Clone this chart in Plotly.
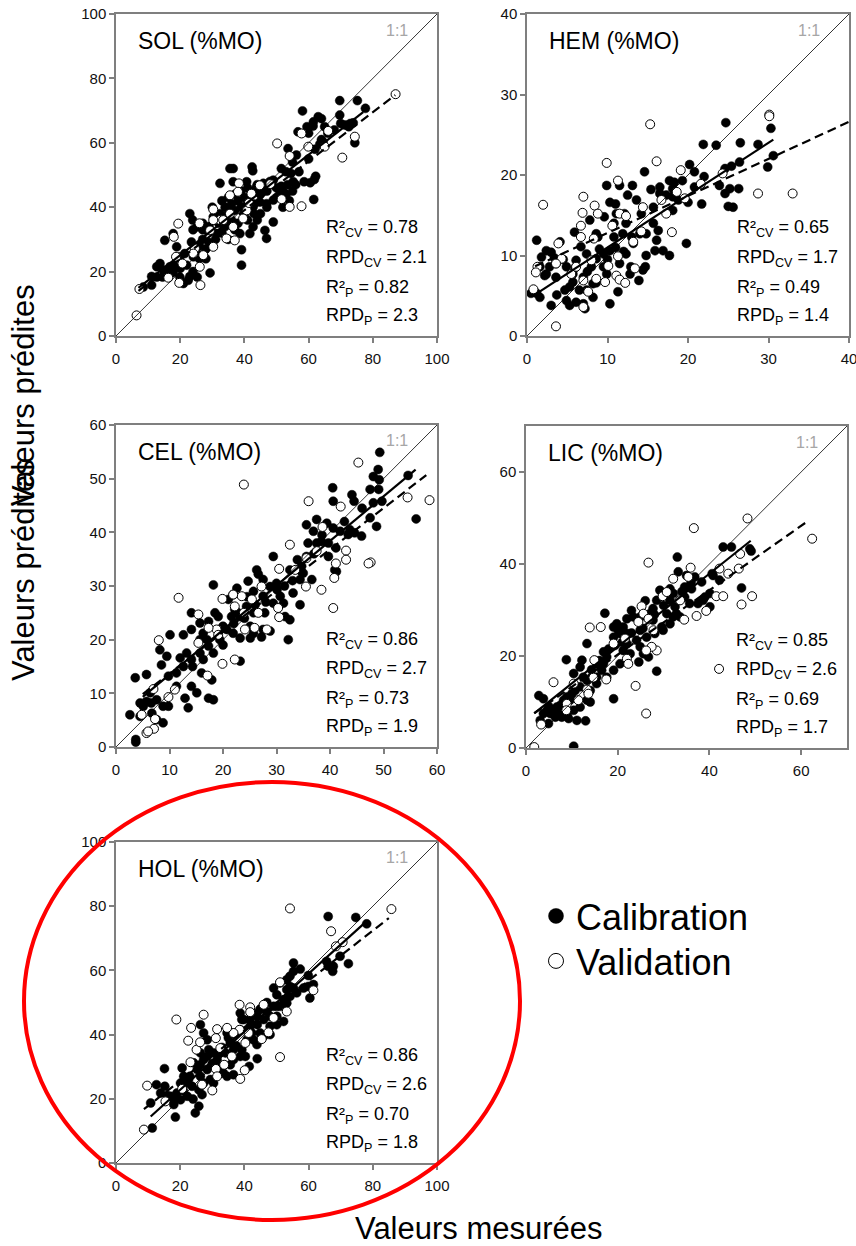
import plotly.graph_objects as go

W, H = 856, 1246
FONT = "Liberation Sans, Arial, sans-serif"

# ---------------- data ----------------
PANELS = ["SOL", "HEM", "CEL", "LIC", "HOL"]
AXIS_MAX = [100, 40, 60, 70, 100]
TICK_STEP = [20, 10, 10, 20, 20]
TICK_MAX = [100, 40, 60, 60, 100]
R2_CV = ["0.78", "0.65", "0.86", "0.85", "0.86"]
RPD_CV = ["2.1", "1.7", "2.7", "2.6", "2.6"]
R2_P = ["0.82", "0.49", "0.73", "0.69", "0.70"]
RPD_P = ["2.3", "1.4", "1.9", "1.7", "1.8"]

# regression lines (calibration = solid, validation = dashed)
CAL_FIT_X = [(7, 77), (0.9, 30.6), (5, 56), (1.8, 49), (10.8, 78)]
CAL_FIT = [(0.78, 9.5), (0.65, 4.5), (0.83, 5.2), (0.795, 6.1), (0.905, 4.7)]
VAL_FIT_X = [(7, 87), (1, 41), (5, 58), (1.8, 61), (8.7, 85)]
VAL_FIT = [(0.76, 8.7), (0.46, 8.2), (0.77, 6.0), (0.70, 6.3), (0.78, 10.0)]

SOL_CAL = [(69.7,73.1),(75.2,73.1),(77.7,70.7),(58.1,69.9),(69.7,68.6),(63,68.1),(64,67.5),(61.5,66.5),(59.5,65),
(61.4,65.2),(56.7,63.4),(71.4,65.5),(73.9,66.2),(72.5,65),(74.4,60),(63.5,59.6),(64.5,60.3),(53.6,58.2),(56.2,56.2),
(55,54),(51.5,52),(53,51),(54.5,50.5),(58.6,47.9),(60.5,47.6),(62.2,49.6),(61.8,48.6),(61.6,42.4),(55.2,47.9),(53.5,47),
(51.5,46.5),(35.5,52),(36.5,52),(42.4,52.5),(42.6,51.3),(32.4,47.4),(36.5,47.9),(40.7,47.9),(43.8,46.3),(45.9,47.4),
(48,48),(49,48.4),(49,42.2),(46.9,41.1),(44.8,41.6),(39.6,40.1),(42.7,40.1),(30.3,37),(32.4,38),(23,38),(23.9,36),
(25.2,33.9),(28.2,32.8),(31.3,31.8),(38.6,31.8),(41.7,31.8),(42.7,33.9),(46.4,32.8),(49,35.4),(46.9,30.3),(39.1,26.8),
(39.1,22),(29.3,19.6),(15.2,29.7),(17.8,31.8),(23.5,29.2),(21.4,25.6),(19.9,24.6),(18.9,27.7),(24.1,24.6),(12.7,21.5),
(13.7,22.5),(14.8,20.5),(16.8,21.5),(17.8,19.8),(11.1,18.5),(12.7,18.3),(14.5,18.3),(16.8,19.2),(19.9,18.3),(23,18.5),
(25.3,18.3),(21,16.3),(22.5,17.3),(11.1,15.8),(8.5,15.2),(33,42),(34,40),(35,43),(36,41),(37,44),(38,42),(39,45),(40,43),
(41,46),(42,44),(43,45),(44,47),(45,44),(46,46),(47,45),(48,47),(50,46),(51,44),(52,45),(40,38),(41,36),(43,38),(44,36),
(36,36),(34,34),(33,32),(31,30),(29,29),(28,27),(27,30),(26,28),(25,26),(29,34),(31,36),(35,38),(37,39),(38,35),(30,40),
(32,35),(27,35),(26,24),(28,24),(22,22),(24,20),(20,21),(18,22),(15,19),(24,33),(27,33),(35,30),(37,33),(45,38),(47,40),
(50,43),(52,40),(54,42),(56,47),(57,51),(60,55),(62,58),(64,61),(66,63),(68,64),(70,66),(73,66),(60,63),(65,65),(55,45),
(53,44),(43,41),(41,42),(39,40),(36,39)]
SOL_VAL = [(87.1,75.1),(66.1,63.7),(57.8,62.9),(59.9,58.8),(65,58.8),(54.1,55.9),(50.2,59.8),(70.5,55.4),(74.4,61.9),
(54.1,40.1),(57.8,40.3),(51.6,42.5),(38.3,47.4),(38,44.8),(35.5,43.7),(30.3,39.3),(32.4,36),(35.5,38),(36.5,33.9),
(34.4,30.3),(37,29.7),(29.3,32.8),(30.3,27.7),(27.2,25.1),(19.4,34.9),(18,30.8),(18.7,24.6),(20.7,22.5),(16.3,18.1),
(19.7,16.5),(26.1,21.5),(26.3,15.8),(6.4,6.4),(7.3,14.6),(40.7,39),(39.6,36.5),(41.4,41.3),(44.8,46.8),(42.2,44.2),
(48.1,47.2),(30.3,36),(33.4,36),(26,35),(24.6,27.2),(24.1,25.6)]

HEM_CAL = [(24.7,26.5),(26.5,24),(23.5,23.7),(21.9,23.8),(28.7,23.8),(30.3,25.8),(30.6,22.4),(29.9,21),(25.4,21.1),
(24.6,20.8),(26.4,21.6),(20.2,21.3),(20.8,20.4),(22,19.8),(19.3,19.3),(18.3,19.1),(17.7,19.3),(16.5,18.5),(15.4,18.2),
(14.6,20.4),(13.1,18.7),(12.5,17.5),(11.5,18.7),(9.9,18.7),(10.3,16.6),(11,16.4),(12.1,15.2),(13.6,16.9),(14.2,15.2),
(15.7,16),(17.3,17.5),(18.8,16.9),(20,16.6),(21.7,16.4),(23.9,18.7),(24.6,17.7),(25.2,18.3),(26.3,18.3),(25,16.1),
(25.6,16),(19.8,11.5),(17.7,10),(16.9,10.6),(15.9,10.6),(16.3,13.1),(14.8,10),(14.7,8.6),(14.4,8.2),(11.9,12.7),
(12.3,14),(10.8,14),(10.8,12.3),(8.8,12.3),(7.8,14.4),(5.9,12.9),(4.1,11.7),(1.2,11.9),(1.8,9.8),(2.4,10.6),(3,10.4),
(3.6,9),(1.6,8.6),(2.4,7.7),(1.2,5.3),(0.5,5.3),(1.6,4.8),(3,3.8),(3.7,5.1),(4.9,4.4),(5.3,3.8),(6.1,4.2),(7,4),
(7.2,3.4),(8.2,4.8),(10.3,4),(11.3,5.5),(12.8,7.7),(12.9,8.6),(13.9,6.9),(8.2,6.5),(7,7.3),(5.7,6.7),(5.7,7.7),(4.9,8.6),
(6.1,9.4),(7.4,10.2),(8.6,9.6),(9.5,10.2),(10.3,10.6),(9.5,8.6),(9.9,7.7),(8,8.6),(6.7,11.1),(11.5,9),(12.3,10.2),
(13.2,11.5),(14,12.7),(14.8,12.7),(15.7,14),(18.1,15.6),(16.1,11.9),(4.7,5.7),(6.5,5.7),(7.4,5.7),(8.6,6.6),(5.3,6.1),
(3.6,7.3),(2.8,8.6),(3.4,9.7),(18.1,18.3),(18.1,17.3),(16.5,17.7),(20.8,18.5),(11.1,15.2),(8.6,12.7),(9.6,14.8),
(13,12.3),(10,9.5),(11,11),(6,8.5),(4.5,9.5),(2.2,7.5),(7.5,8),(9,10.8),(12,10.5)]
HEM_VAL = [(30.1,27.5),(30.1,27.3),(15.3,26.3),(9.9,21.5),(16.1,21.7),(19.1,20.6),(11.3,19.3),(2,16.3),(7,17.3),
(8.4,16.2),(28.7,17.7),(33,17.7),(24.3,20.2),(21.6,18.9),(18.6,17.9),(16.7,16.9),(18,12.9),(14.4,16),(11.5,15.2),
(6.9,15.3),(6.7,13.7),(6.7,12.3),(10.6,13.7),(8.3,12.1),(8.8,15.2),(13.2,11.7),(12.3,14.9),(3.9,11.5),(4.3,9.6),
(3.6,9),(1.3,8.6),(1.1,7.9),(0.8,5.8),(3.6,1.2),(5.5,7.7),(6.1,8.6),(7,6.9),(7.6,5.5),(8.6,7.1),(10.1,8.7),(11.1,7.5),
(11.5,7),(12.2,6.6),(13.4,8.4),(8,9.4),(11.3,9.9),(9.7,6.7),(7,3.6),(17.3,15.2),(14.2,13),(19.6,17.1)]

CEL_CAL = [(49.3,54.9),(49,51.7),(48.1,50.4),(49.2,49.8),(54.6,50.6),(56.1,42.5),(49.7,45.8),(48.1,45.5),(47.5,48),
(49.1,48),(40.5,48.3),(40.6,45.8),(44.1,47),(44.5,45.8),(46,44.5),(47.5,42.7),(48.7,41.1),(45.9,39.3),(43.4,39.6),
(43.7,40.5),(35.6,41.4),(37.5,42.4),(39.4,41.7),(40.6,40.8),(41.9,40.2),(36.9,40.2),(38.4,38.3),(39.7,38),(37.5,38),
(35.9,38),(39.7,35.5),(40.9,33),(35.6,35.5),(33.9,34.9),(32.5,33),(34.7,33.7),(35,32.4),(34.4,31.2),(36.6,31.2),
(34.4,26.5),(33.1,28.7),(29.4,35.5),(26.3,33),(26.6,32.2),(27.5,31.2),(28.8,29.9),(30.1,29.3),(30.7,28.1),(31.3,26.8),
(29.4,26.8),(27.5,28.1),(25.7,29),(24.7,30.9),(22.6,29.6),(21.9,28.4),(21,27.5),(22.2,25.6),(23.2,24.3),(24.4,26.2),
(25.7,25),(25.1,22.5),(25.7,21.2),(27.5,21.9),(28.8,21.6),(27.2,20.5),(25.1,20.3),(23.2,20.3),(21.9,21.2),(20.7,21.9),
(19.4,21.9),(19.1,24.3),(18.2,30.2),(18.5,25),(17.3,23.4),(15.7,23.1),(14.1,25),(16.3,21.2),(14.1,21.9),(12.6,20.9),
(10.1,20.9),(15.7,20),(17.3,18.8),(18.2,17.5),(15.7,17.5),(13.2,17.5),(14.1,16.3),(12.6,15),(14.3,15),(16.3,16.3),
(16,13.8),(17.9,12.5),(17.3,9.1),(18.2,8.8),(14.1,11.3),(15.1,10.1),(12.9,9.1),(13.5,7.3),(11.3,11.3),(11.3,13.8),
(9.8,13.2),(8.5,15.3),(8.2,18.1),(9.5,16.9),(5.7,13.5),(3.6,12.9),(6.4,10.1),(7.6,8.8),(8.8,7.6),(9.8,7.6),(8.8,4.5),
(7.6,5.1),(6.7,6.3),(5.1,7.6),(4.5,8.2),(5.7,8.5),(6.6,8.2),(2.6,6),(3.7,1.4),(3.7,0.9),(4.5,5.7),(32.2,20),(31.6,24.3),
(32.5,23.7),(23.2,16),(19.4,20),(21.6,24.3),(22.8,25),(41.2,32.7),(41.1,37.1),(44.6,39.9),(42.7,42),(12,16.6),(27.8,25),
(30,30.5),(28,27),(26,26.5),(24,24),(22,23),(20,22.5),(33,31),(37,36),(38.5,39.5),(31.5,30),(20,19),(17,20),(24.5,28)]
CEL_VAL = [(45.3,53),(23.9,48.9),(36,45.8),(42,44.8),(54.5,46.5),(58.6,46),(32.5,37.7),(38.6,41),(37.5,36.5),(43,36.6),
(43,34.9),(41.1,34.2),(40.8,31.5),(47.6,34.4),(47.2,34.2),(40.6,25.9),(38.4,29.3),(35.6,35.2),(35.5,29.9),(33.5,33),
(30.5,33.2),(30.3,25.9),(30.5,24.2),(27.2,29.9),(26.6,25),(28.2,21.9),(25.9,22.2),(24.1,21.9),(23.9,25),(23.5,28.1),
(25.4,27.5),(21.9,28.4),(22.2,26.2),(19.9,27.6),(19.9,15.5),(22.2,16.3),(18.8,21.9),(19.1,20.9),(15.4,24.7),(17.3,22.2),
(15.4,19.4),(11.7,27.8),(8,19.9),(9.8,9.3),(11,10.7),(7,10.8),(7.3,5.2),(7.1,3.4),(5.7,2.6),(6,2.9),(4.8,6),(17.1,13.3)]

LIC_CAL = [(43,43.7),(44.8,43.7),(48.8,43.3),(49.1,42.8),(47,34.8),(33,41.5),(33.2,38.3),(35,37.5),(36.8,37.2),
(38.3,36.1),(40.1,33.6),(40.8,37.5),(40.1,30.7),(37.5,31.4),(35.7,31.4),(34.6,32.8),(32.1,33.6),(31.4,32.1),(32.5,30.7),
(29.9,33.6),(29.2,34.3),(28.5,32.1),(27.7,30.3),(27,29.2),(26.3,28.5),(24.9,28.5),(23.4,28.5),(22,28.1),(23,29.9),
(21.2,26.3),(19.8,27),(20.5,24.9),(19.1,24.1),(19.4,22.3),(21.2,21.2),(22,22.7),(24.1,23.4),(26.3,24.1),(28.1,24.9),
(29.9,25.6),(31.4,27),(32.1,28.5),(33.6,28.5),(29.6,26.3),(26.7,19.8),(28.5,16.7),(24.6,18.7),(17.2,29.3),(16.9,20.9),
(19.1,10.7),(17.6,19.8),(16.9,18.3),(16.5,16.9),(15.4,15.4),(14.3,15.4),(13.3,22.7),(12.2,19.1),(8.8,19.2),(11.8,17.6),
(10.4,16.2),(12.5,15.4),(13.3,14.7),(11.8,13.3),(10.7,12.5),(10,11.8),(8.9,11.1),(8.2,10.4),(7.5,9.3),(6.7,8.9),(6,8.2),
(5.3,7.5),(4.6,8.2),(3.8,7.5),(3.1,6),(2.8,11.4),(3.8,10.7),(4.9,5.3),(6.4,6.7),(7.8,6.7),(9.3,6.4),(11.1,6),(13,5.9),
(14,10),(10.4,0.4),(14.3,17),(15.4,18.3),(19.1,26.3),(20.1,25.6),(22,24.9),(24.9,25.6),(27.7,27.8),(30.7,29.2),
(32.8,29.2),(34.6,35),(31.4,34.6),(36.1,34.6),(38.6,32.1),(39,32.8),(42.2,36.5),(40.6,37.9),(24.9,22),(25.6,20.5),
(22.7,20.5),(20.5,18.3),(19.1,16.9),(17.6,15.4),(15.4,14),(14,12.5),(13.3,10.4),(11.8,8.9),(10.4,8.2),(9.6,10.4),
(7.8,8.9),(21,23),(23,25),(25.5,26),(28,29),(30,31),(18,21.5),(16,19),(9,7),(7,7.5),(5,9),(26,32),(34,34),(36,36)]
LIC_VAL = [(48.3,49.9),(36.6,47.8),(26.7,40.3),(62.4,45.5),(46.7,42.2),(46.4,39),(44.1,37.9),(42.2,39),(35.9,39.2),
(41.5,33),(43,33),(49.3,33),(47,31.2),(39.3,29.8),(37.2,28.7),(34.5,27.9),(32.1,36.8),(29.8,33),(25.2,30.8),(25.6,29.2),
(26.7,28.1),(24.5,27.4),(27.8,25.6),(28.5,21.2),(27.4,22),(26.2,21.2),(22,19.4),(22.3,18.3),(21.6,23.8),(19.1,22.7),
(23.9,13.5),(26.2,7.5),(13.9,26.2),(16.3,26.3),(14.9,19.1),(17.5,14.9),(14.7,15.3),(13.3,12.7),(13.6,11.8),(11.4,10.4),
(10.4,14),(6,14.3),(8.9,9.6),(3.3,5.1),(1.8,0.2),(8.8,8.2),(42.1,17.2),(30.7,33.9),(33.6,32.1),(35.4,37.2)]

HOL_CAL = [(66.1,76.8),(74.7,76.5),(78.1,74.5),(72.4,62.1),(69.8,64.4),(67.7,61.3),(66.1,61.3),(67.5,59.7),(65.6,62.8),
(55.3,62.3),(57.4,60.4),(55.3,59.7),(54.2,58.2),(59.9,58.4),(61.5,55.6),(59.9,55),(60.4,51.4),(58.4,54.5),(55.3,54.5),
(53.2,57.1),(53.2,54),(51.1,56.1),(49.1,54.5),(50.1,52.4),(52.2,50.9),(54.2,51.9),(51.1,48.8),(49.1,48.8),(47,47.2),
(48,45.7),(50.1,45.7),(52.2,44.1),(50.1,43.1),(48,40),(44.9,47.8),(42.8,46.7),(38.7,46.7),(39.8,44.7),(41.8,44.7),
(44,43.1),(44.9,40.5),(42.3,40.5),(40.8,38.4),(39.2,35.3),(40.3,33.2),(44,32.5),(41.5,30.1),(38.7,33.2),(36.6,35.3),
(35.6,37.4),(34.6,40.5),(34.1,34.3),(35.6,30.6),(36.6,27.5),(34.6,27),(32.5,28),(31.5,32.2),(30.4,34.3),(28.4,38.4),
(26.3,43.1),(27.3,40.5),(28.9,35.3),(26.3,34.3),(27.3,32.2),(28.4,29.1),(29.4,26),(30.4,24.9),(27.3,24.9),(26.3,27),
(25.3,29.1),(24.2,31.2),(25.8,22.8),(26.8,21.3),(23.7,23.9),(22.2,24.9),(20.6,29.6),(21.1,27),(20.1,24.9),(19,21.8),
(22.2,20.8),(24,19.9),(18,19.7),(18,18.2),(17,20.8),(15.2,23.9),(15.1,29.4),(12.6,24.4),(13.9,21.8),(10.8,18.7),
(18.5,14.3),(24.7,15.6),(11.3,10.9),(31.5,30.1),(32.5,34.3),(36.6,32.2),(37.5,36.5),(40.8,41.5),(44,45.7),(46,44.7),
(48,42.6),(46,39.5),(42.8,38.4),(50.1,48.8),(53.2,49.8),(56.3,53),(54.2,55),(38.7,41.5),(36.1,33.2),(33.5,28),(20.1,19.7),
(22.6,26),(25.8,17.7),(26.3,30.6),(28.4,33.2),(36.6,40.5),(41.8,42.6),(43.9,36.9),(39.2,44.7),(30,31),(33,36),(35,39),
(45,48),(47,50),(23,27),(21,22.5),(16,21)]
HOL_VAL = [(85.8,79.1),(54.2,79.3),(67,72.2),(70.6,68.8),(68.5,67.5),(51.1,33),(61.5,53.8),(53.2,47.2),(51.1,56.3),
(46,49.3),(38.5,49.3),(41.8,48.5),(41.8,47),(49.1,45.2),(45.4,38.6),(47.5,40.7),(41.3,40.5),(40.3,37.4),(38.5,41.5),
(36.6,40.5),(34.6,42.1),(31.5,41.7),(31.1,38.9),(32.5,35.8),(36.1,33.2),(33.7,30.6),(38.7,26.2),(40.1,28.9),(31.1,29.3),
(31.5,27),(27.3,46.2),(18.8,44.7),(23.4,42.1),(22.5,38.1),(25.1,35.3),(26.2,37.6),(23.2,31.4),(26.8,24.4),(30,22.6),
(20.6,23.1),(15.4,19.2),(9.7,24.1),(8.7,10.4)]

CAL_DATA = [SOL_CAL, HEM_CAL, CEL_CAL, LIC_CAL, HOL_CAL]
VAL_DATA = [SOL_VAL, HEM_VAL, CEL_VAL, LIC_VAL, HOL_VAL]

# ---------------- layout geometry (pixels: left, right, top, bottom) ----------------
BOXES = [(116, 437, 14, 336), (527, 849, 14, 336), (116, 437, 425, 747),
         (526, 847, 426, 748), (116, 437, 842, 1163)]

fig = go.Figure()
AX_GREY = "#7f7f7f"

for i, name in enumerate(PANELS):
    n = "" if i == 0 else str(i + 1)
    xa, ya = "x" + n, "y" + n
    l, r, t, b = BOXES[i]
    mx = AXIS_MAX[i]
    ticks = list(range(0, TICK_MAX[i] + 1, TICK_STEP[i]))
    common = dict(range=[0, mx], tickvals=ticks, showgrid=False, zeroline=False,
                  showline=True, linecolor=AX_GREY, linewidth=1.5, mirror=True,
                  ticks="outside", ticklen=5, tickcolor=AX_GREY, tickwidth=1.5,
                  ticklabeloverflow="allow",
                  tickfont=dict(family=FONT, size=15, color="#111"))
    fig.layout["xaxis" + n] = dict(domain=[l / W, r / W], anchor=ya, ticklabelstandoff=3, **common)
    fig.layout["yaxis" + n] = dict(domain=[1 - b / H, 1 - t / H], anchor=xa, **common)

    cx, cy = zip(*CAL_DATA[i])
    vx, vy = zip(*VAL_DATA[i])
    fig.add_trace(go.Scatter(x=cx, y=cy, mode="markers", xaxis=xa, yaxis=ya, showlegend=False,
                             marker=dict(symbol="circle", size=9, color="black",
                                         line=dict(width=0.5, color="black"))))
    fig.add_trace(go.Scatter(x=vx, y=vy, mode="markers", xaxis=xa, yaxis=ya, showlegend=False,
                             marker=dict(symbol="circle", size=9, color="white",
                                         line=dict(width=1, color="black"))))
    # 1:1 line
    fig.add_trace(go.Scatter(x=[0, mx], y=[0, mx], mode="lines", xaxis=xa, yaxis=ya,
                             showlegend=False, line=dict(color="black", width=0.8)))
    # calibration fit (solid)
    s, c = CAL_FIT[i]
    x0, x1 = CAL_FIT_X[i]
    fig.add_trace(go.Scatter(x=[x0, x1], y=[s * x0 + c, s * x1 + c], mode="lines",
                             xaxis=xa, yaxis=ya, showlegend=False,
                             line=dict(color="black", width=2.2)))
    # validation fit (dashed)
    s, c = VAL_FIT[i]
    x0, x1 = VAL_FIT_X[i]
    fig.add_trace(go.Scatter(x=[x0, x1], y=[s * x0 + c, s * x1 + c], mode="lines",
                             xaxis=xa, yaxis=ya, showlegend=False,
                             line=dict(color="black", width=2.2, dash="9px,5px")))

    ref = dict(xref=xa + " domain", yref=ya + " domain", showarrow=False)
    fig.add_annotation(text=f"{name} (%MO)", x=0.062, y=1 - 27 / 322, xanchor="left",
                       yanchor="middle", font=dict(family=FONT, size=23, color="black"), **ref)
    fig.add_annotation(text="1:1", x=0.875, y=1 - 16 / 322, xanchor="center",
                       yanchor="middle", font=dict(family=FONT, size=16, color="#a6a6a6"), **ref)
    stats = [f"R²<sub>CV</sub> = {R2_CV[i]}", f"RPD<sub>CV</sub> = {RPD_CV[i]}",
             f"R²<sub>P</sub> = {R2_P[i]}", f"RPD<sub>P</sub> = {RPD_P[i]}"]
    for k, txt in enumerate(stats):
        fig.add_annotation(text=txt, x=0.647, y=[107, 78, 48, 20][k] / 322,
                           xanchor="left", yanchor="middle",
                           font=dict(family=FONT, size=18, color="black"), **ref)

# legend entries (one legend per entry so their spacing can be set)
fig.add_trace(go.Scatter(x=[None], y=[None], mode="markers", name="Calibration", legend="legend",
                         marker=dict(size=15, color="black", line=dict(width=0.5, color="black"))))
fig.add_trace(go.Scatter(x=[None], y=[None], mode="markers", name="Validation", legend="legend2",
                         marker=dict(size=15, color="white", line=dict(width=1, color="black"))))

# axis titles
fig.add_annotation(text="Valeurs mesurées", x=479 / W, y=1 - 1228 / H, xref="paper", yref="paper",
                   showarrow=False, xanchor="center", yanchor="middle",
                   font=dict(family=FONT, size=31, color="black"))
for yc in (570, 395):
    fig.add_annotation(text="Valeurs prédites", x=23 / W, y=1 - yc / H, xref="paper", yref="paper",
                       showarrow=False, textangle=-90, xanchor="center", yanchor="middle",
                       font=dict(family=FONT, size=31, color="black"))

# red ellipse
fig.add_shape(type="circle", xref="paper", yref="paper",
              x0=24 / W, x1=520 / W, y0=1 - 1220 / H, y1=1 - 782 / H,
              line=dict(color="#ff0000", width=4))

leg_common = dict(xanchor="left", yanchor="top", font=dict(family=FONT, size=36, color="black"),
                  bgcolor="rgba(0,0,0,0)", borderwidth=0, itemsizing="trace")
fig.update_layout(
    width=W, height=H, margin=dict(l=0, r=0, t=0, b=0, autoexpand=False),
    paper_bgcolor="white", plot_bgcolor="white",
    font=dict(family=FONT, color="black"),
    legend=dict(x=536 / W, y=1 - 886 / H, **leg_common),
    legend2=dict(x=536 / W, y=1 - 931 / H, **leg_common),
    showlegend=True,
)

fig.write_html("out.html")
